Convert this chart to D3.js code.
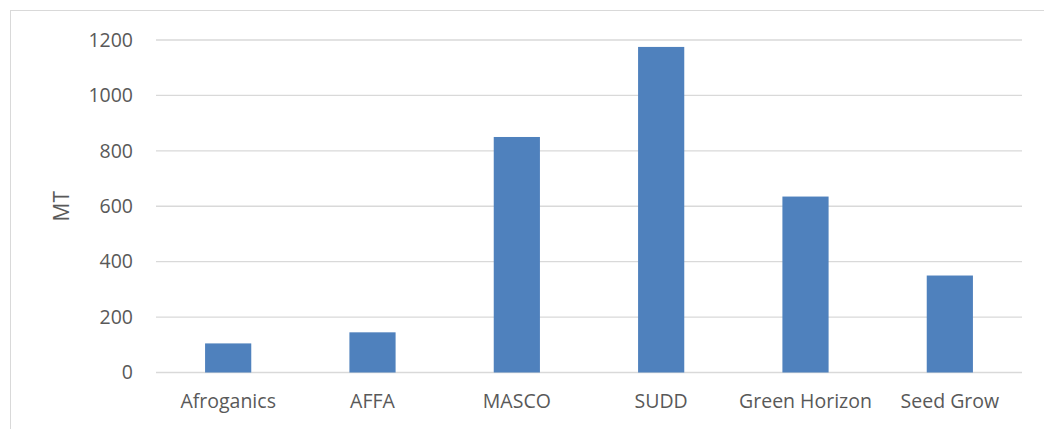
<!DOCTYPE html>
<html>
<head>
<meta charset="utf-8">
<script src="https://cdn.jsdelivr.net/npm/d3@7"></script>
<style>
  body { margin: 0; background: #fff; }
  svg text { font-family: "Open Sans", sans-serif; fill: #595959; }
</style>
</head>
<body>
<div id="chart"></div>
<script>
const categories = ['Afroganics', 'AFFA', 'MASCO', 'SUDD', 'Green Horizon', 'Seed Grow'];
const values = [105, 145, 850, 1175, 635, 350];
const yTicks = [0, 200, 400, 600, 800, 1000, 1200];
const yLabel = 'MT';

let width = 1044;
let height = 429;
let margin = {top: 40, right: 22, bottom: 56.5, left: 156};

let svg = d3.select('#chart')
    .append('svg')
    .attr('width', width)
    .attr('height', height);

// chart frame
svg.append('rect')
    .attr('x', 10.5)
    .attr('y', 10.5)
    .attr('width', width)
    .attr('height', height)
    .attr('fill', 'none')
    .attr('stroke', '#d9d9d9');

let x = d3.scaleBand()
    .domain(categories)
    .range([margin.left, width - margin.right])
    .paddingInner(0.68)
    .paddingOuter(0.34);

let y = d3.scaleLinear()
    .domain([0, 1200])
    .range([height - margin.bottom, margin.top]);

// gridlines
svg.append('g')
    .selectAll('line')
    .data(yTicks)
    .enter()
    .append('line')
    .attr('x1', margin.left)
    .attr('x2', width - margin.right)
    .attr('y1', d => y(d))
    .attr('y2', d => y(d))
    .attr('stroke', '#d9d9d9')
    .attr('stroke-width', 1.3);

// y axis labels
let yAxis = d3.axisLeft(y).tickValues(yTicks).tickFormat(d3.format('d')).tickSize(0).tickPadding(23);
let gy = svg.append('g')
    .attr('transform', 'translate(' + margin.left + ',0)')
    .call(yAxis);
gy.select('.domain').remove();
gy.selectAll('text')
    .style('font-size', '19.5px')
    .style('font-family', '"Open Sans", sans-serif')
    .attr('fill', '#595959');

// bars
svg.append('g')
    .selectAll('rect')
    .data(values)
    .enter()
    .append('rect')
    .attr('x', (d, i) => x(categories[i]))
    .attr('y', d => y(d))
    .attr('width', x.bandwidth())
    .attr('height', d => y(0) - y(d))
    .attr('fill', '#4f81bd');

// x axis labels
let xAxis = d3.axisBottom(x).tickSize(0).tickPadding(22);
let gx = svg.append('g')
    .attr('transform', 'translate(0,' + y(0) + ')')
    .call(xAxis);
gx.select('.domain').remove();
gx.selectAll('text')
    .style('font-size', '19.5px')
    .style('font-family', '"Open Sans", sans-serif')
    .attr('fill', '#595959');

// y axis title
svg.append('text')
    .attr('transform', 'translate(69,' + y(600) + ') rotate(-90)')
    .attr('text-anchor', 'middle')
    .style('font-size', '21px')
    .text(yLabel);
</script>
</body>
</html>
